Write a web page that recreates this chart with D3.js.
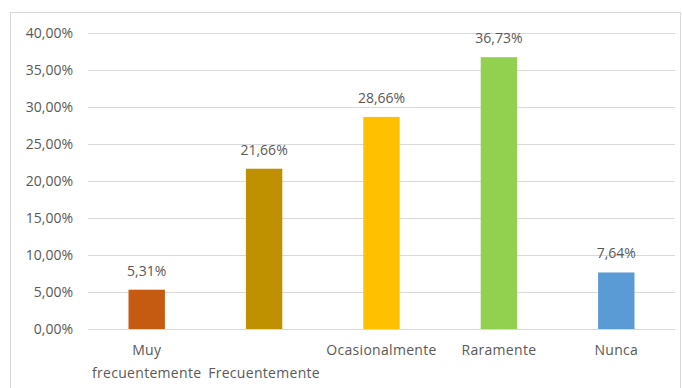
<!DOCTYPE html>
<html lang="es">
<head>
<meta charset="UTF-8">
<title>Frecuencia</title>
<script src="https://d3js.org/d3.v7.min.js"></script>
<style>
  html, body { margin: 0; padding: 0; background: #fff; }
  svg text { font-family: 'Open Sans', sans-serif; fill: #595959; }
</style>
</head>
<body>
<svg id="chart" width="682" height="388"></svg>
<script>
// --- data ---
const categories = [["Muy", "frecuentemente"], ["", "Frecuentemente"], ["Ocasionalmente"], ["Raramente"], ["Nunca"]];
const values = [5.31, 21.66, 28.66, 36.73, 7.64];
const colors = ["#C55A11", "#BF9000", "#FFC000", "#92D050", "#5B9BD5"];
const yTicks = [0, 5, 10, 15, 20, 25, 30, 35, 40];

const svg = d3.select("#chart");
const fmt = v => d3.format(".2f")(v).replace(".", ",") + "%";

// chart frame
svg.append("rect")
  .attr("x", 10.5).attr("y", 12.5)
  .attr("width", 670).attr("height", 390)
  .attr("fill", "none").attr("stroke", "#D9D9D9");

const x = d3.scaleBand().domain(d3.range(values.length)).range([88, 675]).paddingInner(0.69).paddingOuter(0.345);
const y = d3.scaleLinear().domain([0, 40]).range([329, 33]);

// gridlines + y labels
const yAxis = svg.append("g").attr("transform", "translate(88,0)")
  .call(d3.axisLeft(y).tickValues(yTicks).tickFormat(d => fmt(d)).tickSize(-587).tickPadding(15));
yAxis.select(".domain").remove();
yAxis.selectAll("line").attr("stroke", "#D9D9D9");
yAxis.selectAll("text").attr("font-size", 14).attr("fill", "#595959").attr("font-family", "'Open Sans', sans-serif");

// bars
svg.append("g").selectAll("rect").data(values).join("rect")
  .attr("x", (d, i) => x(i))
  .attr("width", x.bandwidth())
  .attr("y", d => y(d))
  .attr("height", d => y(0) - y(d))
  .attr("fill", (d, i) => colors[i]);

// data labels
svg.append("g").selectAll("text").data(values).join("text")
  .attr("x", (d, i) => x(i) + x.bandwidth() / 2)
  .attr("y", d => y(d) - 14)
  .attr("text-anchor", "middle")
  .attr("font-size", 14)
  .text(d => fmt(d));

// category labels
const cat = svg.append("g").selectAll("text").data(categories).join("text")
  .attr("x", (d, i) => x(i) + x.bandwidth() / 2)
  .attr("text-anchor", "middle")
  .attr("font-size", 14)
  .attr("letter-spacing", 0.3);
cat.selectAll("tspan").data(d => d).join("tspan")
  .attr("x", function() { return this.parentNode.getAttribute("x"); })
  .attr("y", (d, j) => 355 + j * 23)
  .text(d => d);
</script>
</body>
</html>
